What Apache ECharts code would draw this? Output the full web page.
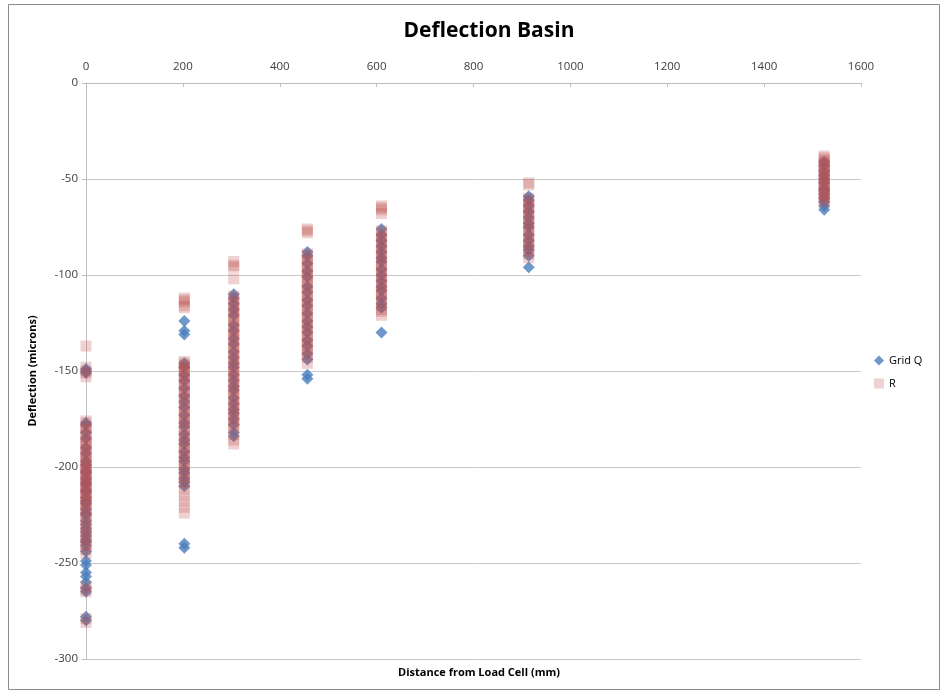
<!DOCTYPE html>
<html>
<head>
<meta charset="utf-8">
<script src="https://cdn.jsdelivr.net/npm/echarts@6/dist/echarts.min.js"></script>
<style>
  html, body { margin: 0; padding: 0; background: #fff; }
  #chart { width: 948px; height: 694px; }
</style>
</head>
<body>
<div id="chart"></div>
<script>
// Sensor offsets from the load cell (mm)
const offsets = [0, 203, 305, 457, 610, 914, 1524];

// Grid Q deflections (microns) per sensor offset
const q0 = [-149, -150, -151, -177, -178, -182, -185, -190, -193, -197, -199, -202, -203, -206, -208, -209, -212, -213, -216, -218, -219, -222, -224, -225, -228, -230, -232, -234, -236, -238, -239, -241, -244, -249, -251, -255, -257, -260, -263, -265, -278, -280];
const q203 = [-124, -129, -131, -146, -148, -152, -155, -159, -163, -166, -169, -173, -177, -179, -183, -186, -188, -192, -195, -197, -201, -203, -206, -208, -210, -240, -242];
const q305 = [-110, -112, -115, -118, -121, -126, -129, -133, -136, -140, -143, -146, -148, -152, -155, -158, -160, -164, -167, -170, -172, -175, -178, -182, -184];
const q457 = [-88, -90, -94, -98, -101, -106, -109, -113, -116, -120, -124, -127, -130, -134, -137, -141, -144, -152, -154];
const q610 = [-76, -79, -82, -85, -88, -91, -93, -97, -100, -103, -106, -108, -112, -115, -117, -130];
const q914 = [-59, -61, -64, -67, -70, -73, -75, -79, -82, -85, -87, -90, -96];
const q1524 = [-41, -43, -46, -48, -50, -52, -55, -56, -58, -60, -62, -64, -66];

// R deflections (microns) per sensor offset
const r0 = [-137, -148, -150, -151, -153, -176, -177, -179, -180, -181, -183, -184, -186, -187, -188, -189, -191, -192, -193, -194, -196, -197, -198, -199, -200, -201, -202, -203, -204, -205, -206, -207, -208, -209, -210, -211, -212, -213, -214, -215, -216, -217, -218, -219, -220, -222, -223, -224, -226, -227, -229, -231, -232, -234, -235, -237, -238, -240, -241, -243, -245, -262, -264, -265, -279, -281];
const r203 = [-112, -113, -114, -116, -117, -145, -146, -147, -148, -149, -150, -151, -153, -154, -155, -157, -158, -160, -161, -162, -164, -165, -167, -168, -170, -171, -173, -174, -176, -177, -179, -180, -182, -184, -185, -187, -188, -190, -191, -193, -194, -196, -197, -199, -200, -202, -203, -205, -206, -208, -209, -212, -215, -218, -221, -224];
const r305 = [-93, -95, -96, -102, -111, -112, -114, -115, -117, -118, -120, -121, -123, -124, -126, -127, -129, -130, -132, -133, -135, -136, -138, -139, -141, -142, -144, -145, -147, -148, -150, -151, -153, -154, -156, -157, -159, -160, -162, -163, -165, -166, -168, -169, -171, -172, -174, -175, -177, -178, -180, -183, -186, -188];
const r457 = [-76, -77, -78, -89, -90, -92, -93, -95, -96, -98, -99, -101, -102, -104, -105, -107, -108, -110, -111, -113, -114, -116, -117, -119, -120, -122, -123, -125, -126, -128, -129, -131, -132, -134, -135, -137, -138, -140, -141, -143, -146];
const r610 = [-64, -65, -66, -68, -77, -78, -80, -81, -83, -84, -86, -87, -89, -90, -92, -93, -95, -96, -98, -99, -101, -102, -104, -105, -107, -108, -110, -111, -113, -114, -116, -118, -119, -121];
const r914 = [-52, -53, -60, -61, -62, -64, -65, -66, -68, -69, -71, -72, -74, -75, -77, -78, -80, -81, -83, -84, -86, -87, -89, -91];
const r1524 = [-38, -39, -40, -41, -42, -43, -44, -45, -46, -47, -48, -49, -50, -51, -52, -53, -54, -55, -56, -57, -58, -59, -60, -61, -62];

const qByOffset = [q0, q203, q305, q457, q610, q914, q1524];
const rByOffset = [r0, r203, r305, r457, r610, r914, r1524];

function pairs(groups) {
  const out = [];
  groups.forEach((vals, i) => vals.forEach(v => out.push([offsets[i], v])));
  return out;
}

const font = 'Open Sans, Liberation Sans, sans-serif';
const chart = echarts.init(document.getElementById('chart'), null, { renderer: 'canvas' });

chart.setOption({
  animation: false,
  backgroundColor: '#fff',
  title: [
    {
      text: 'Deflection Basin',
      left: 484, top: 16, textAlign: 'center',
      textStyle: { fontFamily: font, fontSize: 21, fontWeight: 'bold', color: '#000' }
    },
    {
      text: 'Distance from Load Cell (mm)',
      left: 474, top: 662, textAlign: 'center',
      textStyle: { fontFamily: font, fontSize: 11, fontWeight: 'bold', color: '#000' }
    }
  ],
  graphic: [{
    type: 'rect',
    shape: { x: 8.5, y: 4.5, width: 931, height: 685 },
    style: { fill: 'none', stroke: '#8c8c8c', lineWidth: 1 },
    silent: true
  }],
  legend: {
    orient: 'vertical',
    left: 869, top: 350,
    itemGap: 12,
    itemWidth: 10, itemHeight: 10,
    textStyle: { fontFamily: font, fontSize: 11, color: '#000' },
    data: [
      { name: 'Grid Q', icon: 'diamond' },
      { name: 'R', icon: 'rect' }
    ]
  },
  grid: { left: 86, right: 87, top: 83, bottom: 35, containLabel: false },
  xAxis: {
    type: 'value',
    position: 'top',
    min: 0, max: 1600, interval: 200,
    axisLine: { show: true, onZero: false, lineStyle: { color: '#bfbfbf' } },
    axisTick: { show: true, inside: true, length: 4, lineStyle: { color: '#bfbfbf' } },
    axisLabel: { fontFamily: font, fontSize: 11.5, color: '#404040', margin: 10, formatter: v => String(v) },
    splitLine: { show: false }
  },
  yAxis: {
    type: 'value',
    min: -300, max: 0, interval: 50,
    axisLine: { show: true, onZero: false, lineStyle: { color: '#bfbfbf' } },
    axisTick: { show: true, length: 4, lineStyle: { color: '#bfbfbf' } },
    axisLabel: { fontFamily: font, fontSize: 11.5, color: '#404040', margin: 8, formatter: v => String(v) },
    splitLine: { show: true, lineStyle: { color: '#c8c8c8', width: 1 } },
    name: 'Deflection (microns)',
    nameLocation: 'middle',
    nameGap: 48,
    nameRotate: 90,
    nameTextStyle: { fontFamily: font, fontSize: 11, fontWeight: 'bold', color: '#000' }
  },
  series: [
    {
      name: 'Grid Q',
      type: 'scatter',
      symbol: 'diamond',
      symbolSize: [12, 12],
      itemStyle: { color: '#4a7ebb' },
      data: pairs(qByOffset)
    },
    {
      name: 'R',
      type: 'scatter',
      symbol: 'rect',
      symbolSize: 11,
      itemStyle: { color: 'rgba(192,80,77,0.33)' },
      data: pairs(rByOffset)
    }
  ]
});
</script>
</body>
</html>
